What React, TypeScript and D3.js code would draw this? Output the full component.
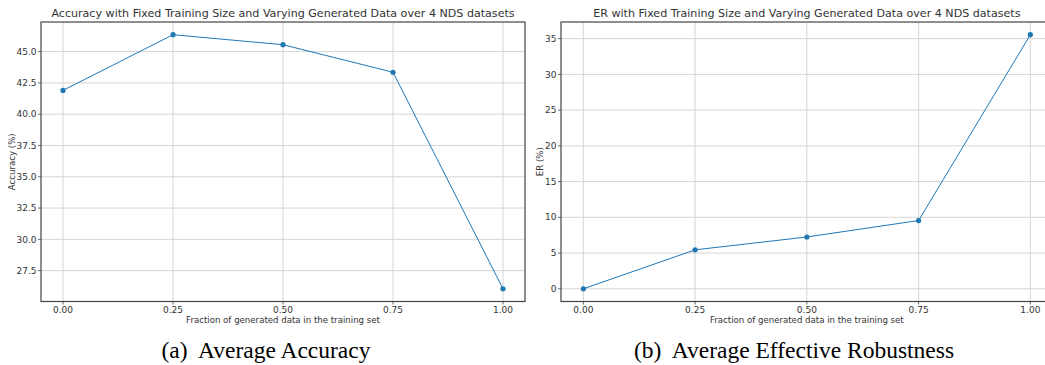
import * as d3 from 'd3'

// fraction of generated data
const fractions = [0, 0.25, 0.5, 0.75, 1.0]
const accuracy = [41.9, 46.35, 45.55, 43.35, 26.05]
const er = [0.0, 5.45, 7.25, 9.55, 35.55]
const xTicks = [0, 0.25, 0.5, 0.75, 1.0]
const accTicks = [27.5, 30.0, 32.5, 35.0, 37.5, 40.0, 42.5, 45.0]
const erTicks = [0, 5, 10, 15, 20, 25, 30, 35]

const FONT = 'DejaVu Sans, sans-serif'
const LINE = '#1f77b4'
const GRID = '#d6d6d6'
const FRAME = '#444'
const TXT = '#333'

type PanelProps = {
  left: number
  right: number
  top: number
  bottom: number
  title: string
  ylabel: string
  ylabelX: number
  values: number[]
  yTicks: number[]
  yFmt: (v: number) => string
}

function Panel({left, right, top, bottom, title, ylabel, ylabelX, values, yTicks, yFmt}: PanelProps){
  const x = d3.scaleLinear().domain([-0.05, 1.05]).range([left, right])
  const lo = d3.min(values)!, hi = d3.max(values)!
  const pad = (hi - lo) * 0.05
  const y = d3.scaleLinear().domain([lo - pad, hi + pad]).range([bottom, top])
  const line = d3.line<number>().x((_, i) => x(fractions[i])).y(d => y(d))
  const fmtX = d3.format('.2f')
  const cx = (left + right) / 2
  return (
    <g>
      {xTicks.map(t => (
        <line key={'gx' + t} x1={x(t)} x2={x(t)} y1={top} y2={bottom} stroke={GRID} strokeWidth={1} />
      ))}
      {yTicks.map(t => (
        <line key={'gy' + t} x1={left} x2={right} y1={y(t)} y2={y(t)} stroke={GRID} strokeWidth={1} />
      ))}
      <path d={line(values) ?? ''} fill="none" stroke={LINE} strokeWidth={1} />
      {values.map((v, i) => (
        <circle key={i} cx={x(fractions[i])} cy={y(v)} r={2.6} fill={LINE} />
      ))}
      <rect x={left} y={top} width={right - left} height={bottom - top} fill="none" stroke={FRAME} strokeWidth={1.2} />
      {yTicks.map(t => (
        <g key={'ty' + t}>
          <line x1={left - 3} x2={left} y1={y(t)} y2={y(t)} stroke={FRAME} strokeWidth={0.8} />
          <text x={left - 4.5} y={y(t)} dy="0.35em" textAnchor="end" fontSize={9} fill={TXT} fontFamily={FONT}>{yFmt(t)}</text>
        </g>
      ))}
      {xTicks.map(t => (
        <g key={'tx' + t}>
          <line x1={x(t)} x2={x(t)} y1={bottom} y2={bottom + 3} stroke={FRAME} strokeWidth={0.8} />
          <text x={x(t)} y={bottom + 11} textAnchor="middle" fontSize={9} fill={TXT} fontFamily={FONT}>{fmtX(t)}</text>
        </g>
      ))}
      <text x={cx} y={bottom + 21} textAnchor="middle" fontSize={8.6} fill={TXT} fontFamily={FONT}>Fraction of generated data in the training set</text>
      <text x={cx} y={top - 5} textAnchor="middle" fontSize={11.1} fill={TXT} fontFamily={FONT}>{title}</text>
      <text transform={`translate(${ylabelX},${(top + bottom) / 2}) rotate(-90)`} textAnchor="middle" fontSize={8.6} fill={TXT} fontFamily={FONT}>{ylabel}</text>
    </g>
  )
}

export default function App(){
  return (
    <svg width={1045} height={365} style={{position: 'absolute', left: 0, top: 0, background: '#fff'}}>
      <rect width={1045} height={365} fill="#fff" />
      <Panel left={41} right={525} top={22} bottom={301.5}
        title="Accuracy with Fixed Training Size and Varying Generated Data over 4 NDS datasets"
        ylabel="Accuracy (%)" ylabelX={15} values={accuracy} yTicks={accTicks} yFmt={d3.format('.1f')} />
      <Panel left={561} right={1052.7} top={22} bottom={301.5}
        title="ER with Fixed Training Size and Varying Generated Data over 4 NDS datasets"
        ylabel="ER (%)" ylabelX={543} values={er} yTicks={erTicks} yFmt={d3.format('d')} />
      <text x={266} y={358} textAnchor="middle" fontSize={23.5} fontFamily="Liberation Serif, serif" fill="#000" style={{whiteSpace: 'pre'}}>(a)  Average Accuracy</text>
      <text x={794} y={358} textAnchor="middle" fontSize={23.5} fontFamily="Liberation Serif, serif" fill="#000" style={{whiteSpace: 'pre'}}>(b)  Average Effective Robustness</text>
    </svg>
  )
}
